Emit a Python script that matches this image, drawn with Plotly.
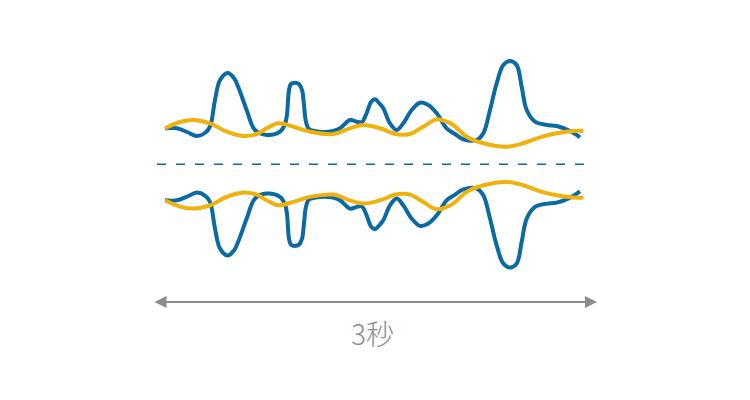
import plotly.graph_objects as go

# time in seconds (arrow spans 0..3 s), amplitude in arbitrary units
blue_t = [0.081, 0.162, 0.230, 0.297, 0.351, 0.385, 0.419, 0.453, 0.505, 0.547, 0.576, 0.633,
          0.689, 0.768, 0.858, 0.892, 0.905, 0.919, 0.932, 0.959, 0.986, 1.007, 1.020, 1.034,
          1.054, 1.128, 1.216, 1.264, 1.331, 1.372, 1.410, 1.444, 1.473, 1.500, 1.527, 1.556,
          1.601, 1.647, 1.691, 1.748, 1.804, 1.860, 1.917, 1.984, 2.041, 2.097, 2.188, 2.232,
          2.277, 2.322, 2.367, 2.412, 2.457, 2.491, 2.525, 2.581, 2.660, 2.728, 2.818, 2.885]
blue_v = [36.0, 36.0, 32.3, 28.3, 31.3, 37.6, 64.3, 84.3, 91.3, 86.3, 77.3, 54.3,
          34.3, 29.3, 32.6, 40.3, 49.3, 74.3, 80.3, 81.6, 80.3, 74.3, 59.3, 42.3,
          35.3, 32.6, 33.3, 36.0, 44.3, 42.8, 42.0, 51.3, 62.3, 65.0, 61.3, 56.0,
          41.0, 34.3, 41.0, 54.3, 61.6, 59.3, 51.0, 36.0, 30.3, 25.0, 24.3, 31.0,
          54.3, 81.0, 99.3, 103.3, 99.3, 77.6, 54.3, 42.6, 39.3, 38.3, 33.3, 27.0]

yellow_t = [0.081, 0.182, 0.272, 0.385, 0.498, 0.610, 0.701, 0.768, 0.847, 0.948, 1.061,
            1.218, 1.331, 1.421, 1.534, 1.647, 1.736, 1.826, 1.917, 1.984, 2.029, 2.120,
            2.232, 2.390, 2.502, 2.615, 2.728, 2.841, 2.908]
yellow_v = [36.0, 42.3, 44.3, 41.0, 32.6, 28.3, 30.3, 36.0, 41.0, 37.6, 32.6,
            30.3, 36.0, 39.3, 36.0, 30.0, 30.3, 37.6, 45.0, 42.6, 39.3, 27.6,
            21.0, 17.6, 21.0, 27.0, 31.0, 33.3, 33.3]

duration_s = 3
duration_label = "3秒"

BLUE = "#0b69a3"
YELLOW = "#f1b10d"
GRAY = "#8c8c8c"

fig = go.Figure()
# upper waveforms and their mirror images below the centre line
for sign in (1, -1):
    fig.add_trace(go.Scatter(x=blue_t, y=[sign * v for v in blue_v], mode="lines",
                             line=dict(color=BLUE, width=4, shape="spline", smoothing=1.0),
                             hoverinfo="skip", showlegend=False))
for sign in (1, -1):
    fig.add_trace(go.Scatter(x=yellow_t, y=[sign * v for v in yellow_v], mode="lines",
                             line=dict(color=YELLOW, width=4, shape="spline", smoothing=1.0),
                             hoverinfo="skip", showlegend=False))

# dashed centre line
fig.add_shape(type="line", x0=0.027, x1=2.932, y0=0, y1=0, xref="x", yref="y",
              line=dict(color=BLUE, width=1.5, dash="9px,10px"))

# double-headed duration arrow
fig.add_annotation(x=duration_s, y=-137.7, ax=0, ay=-137.7, xref="x", yref="y",
                   axref="x", ayref="y", text="", showarrow=True, arrowhead=2,
                   arrowside="end+start", arrowsize=1.2, arrowwidth=2, arrowcolor=GRAY)
fig.add_annotation(x=duration_s / 2 - 0.02, y=-168.7, xref="x", yref="y", text=duration_label,
                   showarrow=False, xanchor="center", yanchor="middle",
                   font=dict(family="Noto Sans CJK JP", size=28, color=GRAY, weight=300))

fig.update_layout(
    width=750, height=400, margin=dict(l=0, r=0, t=0, b=0),
    paper_bgcolor="white", plot_bgcolor="white",
    xaxis=dict(range=[-0.9797, 4.0878], visible=False, fixedrange=True),
    yaxis=dict(range=[-243.7, 156.3], visible=False, fixedrange=True),
    showlegend=False,
)

fig.write_html("out.html")
